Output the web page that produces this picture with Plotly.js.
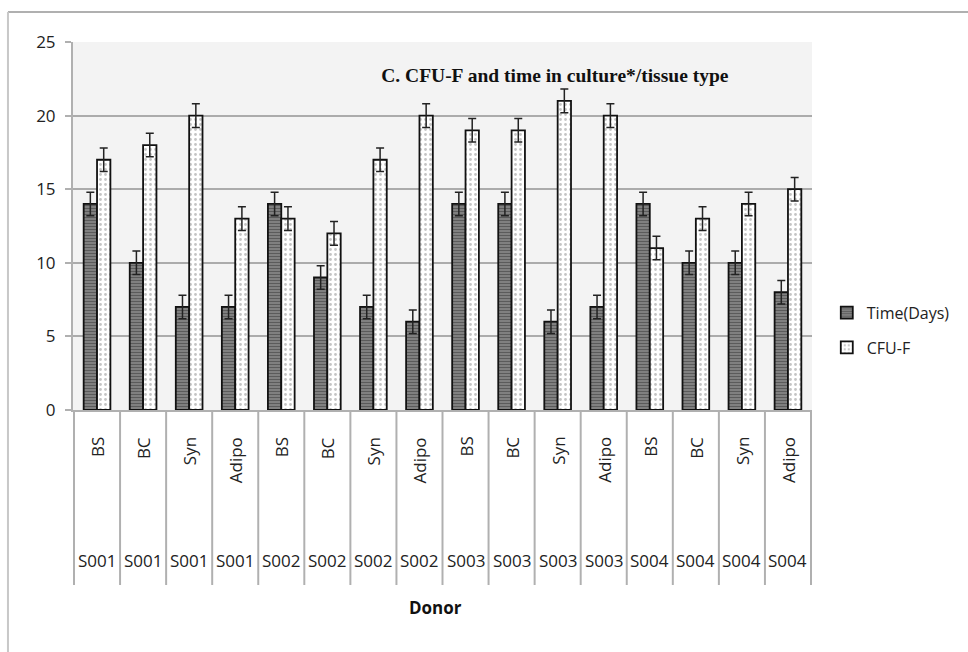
<!DOCTYPE html>
<html>
<head>
<meta charset="utf-8">
<script src="https://cdn.plot.ly/plotly-3.0.1.min.js"></script>
<style>html,body{margin:0;padding:0;background:#fff;}#chart{width:968px;height:652px;}</style>
</head>
<body>
<div id="chart"></div>
<script>
const donors  = ["S001","S001","S001","S001","S002","S002","S002","S002","S003","S003","S003","S003","S004","S004","S004","S004"];
const tissues = ["BS","BC","Syn","Adipo","BS","BC","Syn","Adipo","BS","BC","Syn","Adipo","BS","BC","Syn","Adipo"];
const timeDays = [14,10,7,7,14,9,7,6,14,14,6,7,14,10,10,8];
const cfuF     = [17,18,20,13,13,12,17,20,19,19,21,20,11,13,14,15];
const timeErr  = [0.8,0.8,0.8,0.8,0.8,0.8,0.8,0.8,0.8,0.8,0.8,0.8,0.8,0.8,0.8,0.8];
const cfuErr   = [0.8,0.8,0.8,0.8,0.8,0.8,0.8,0.8,0.8,0.8,0.8,0.8,0.8,0.8,0.8,0.8];
const seriesNames = ["Time(Days)","CFU-F"];
const yTicks = [0,5,10,15,20,25];

const xCats = donors.map((d,i)=> d+" "+tissues[i]);
const FONT = "Open Sans, Noto Sans, sans-serif";

const traces = [
  {type:"bar", name:seriesNames[0], x:xCats, y:timeDays, legendgroup:"a",
   marker:{color:"#7a7a7a", line:{color:"#111", width:1.8},
     pattern:{shape:"-", fgcolor:"#2a2a2a", bgcolor:"#8c8c8c", size:3, solidity:0.5, fillmode:"overlay"}},
   error_y:{type:"data", array:timeErr, visible:true, color:"#222", thickness:1.5, width:4}},
  {type:"bar", name:seriesNames[1], x:xCats, y:cfuF, legendgroup:"b",
   marker:{color:"#ffffff", line:{color:"#111", width:1.8},
     pattern:{shape:".", fgcolor:"#8a8a8a", bgcolor:"#ffffff", size:5, solidity:0.25, fillmode:"overlay"}},
   error_y:{type:"data", array:cfuErr, visible:true, color:"#222", thickness:1.5, width:4}}
];

const annotations = [];
const shapes = [];
xCats.forEach((c,i)=>{
  annotations.push({x:c, xref:"x", y:-0.068, yref:"paper", text:tissues[i], textangle:-90,
    showarrow:false, xanchor:"center", yanchor:"top", font:{family:FONT, size:17, color:"#222"}});
  annotations.push({x:c, xref:"x", y:-0.41, yref:"paper", text:donors[i],
    showarrow:false, xanchor:"center", yanchor:"middle", font:{family:FONT, size:17, color:"#222"}});
});
for(let k=0;k<=xCats.length;k++){
  shapes.push({type:"line", xref:"x", yref:"paper", x0:k-0.5, x1:k-0.5, y0:0, y1:-0.4755,
    line:{color:"#b0b0b0", width:2}});
}
annotations.push({x:0.491, xref:"paper", y:-0.537, yref:"paper", text:"<b>Donor</b>",
  showarrow:false, xanchor:"center", yanchor:"middle", font:{family:FONT, size:17, color:"#111"}});
// chart-area frame (top and left edges visible)
shapes.push({type:"line", xref:"paper", yref:"paper", x0:-0.088, x1:1.3, y0:1.0815, y1:1.0815, line:{color:"#b0b0b0", width:2}});
shapes.push({type:"line", xref:"paper", yref:"paper", x0:-0.088, x1:-0.088, y0:1.0815, y1:-0.7, line:{color:"#c8c8c8", width:2}});

const layout = {
  width:968, height:652,
  margin:{l:73, r:156, t:42, b:242, pad:0, autoexpand:false},
  paper_bgcolor:"#ffffff", plot_bgcolor:"#f3f3f3",
  barmode:"group", bargap:0.42, bargroupgap:0,
  title:{text:"<b>C. CFU-F and time in culture*/tissue type</b>", xref:"paper", x:0.652, xanchor:"center",
    yref:"paper", y:0.91, yanchor:"middle", font:{family:"Liberation Serif, Times New Roman, serif", size:19.5, color:"#111"}},
  xaxis:{type:"category", showticklabels:false, ticks:"", showgrid:false, zeroline:false,
    showline:true, linecolor:"#b0b0b0", linewidth:2, fixedrange:true},
  yaxis:{range:[0,25], tickvals:yTicks, ticktext:yTicks.map(String), ticks:"outside", ticklen:6, tickwidth:2, tickcolor:"#b0b0b0",
    showgrid:true, gridcolor:"#ababab", gridwidth:2, zeroline:false, showline:true, linecolor:"#b0b0b0", linewidth:2,
    tickfont:{family:FONT, size:17, color:"#222"}, ticklabelstandoff:6},
  legend:{x:1.02, xanchor:"left", y:0.217, yanchor:"middle", font:{family:FONT, size:16, color:"#222"},
    traceorder:"grouped", tracegroupgap:11, bgcolor:"rgba(0,0,0,0)", itemwidth:30},
  annotations:annotations, shapes:shapes, showlegend:true
};
Plotly.newPlot("chart", traces, layout, {displayModeBar:false, staticPlot:true});
</script>
</body>
</html>
